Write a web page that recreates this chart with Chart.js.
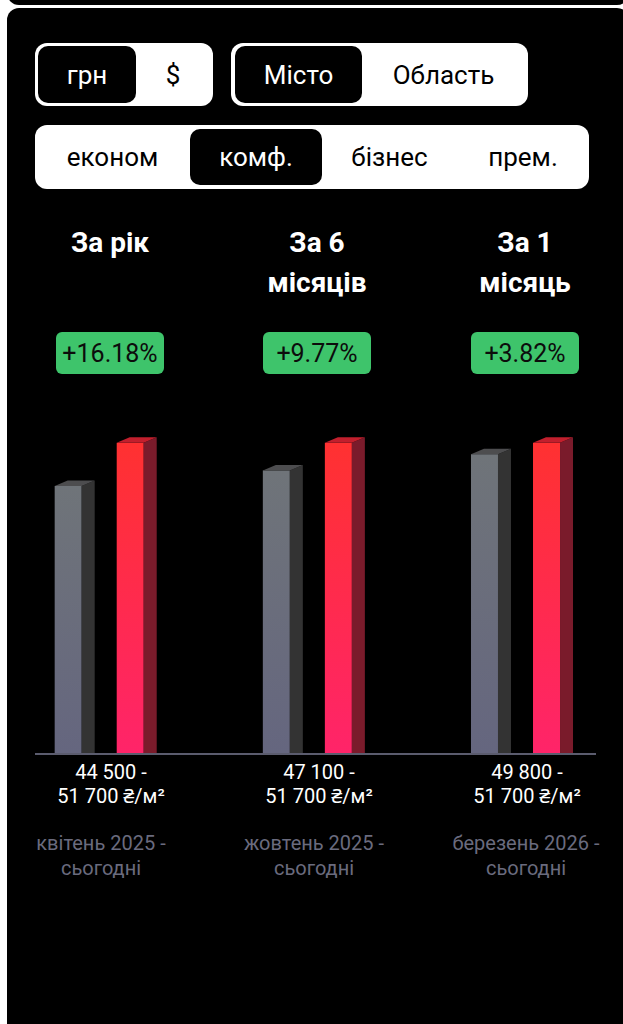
<!DOCTYPE html>
<html>
<head>
<meta charset="utf-8">
<script src="https://cdn.jsdelivr.net/npm/chart.js@4.4.1/dist/chart.umd.min.js"></script>
<style>
  html, body { margin: 0; padding: 0; }
  body { width: 623px; height: 1024px; background: #ffffff; position: relative; overflow: hidden; font-family: Roboto, "Noto Sans", sans-serif; }
  .topcard { position: absolute; left: 7px; right: -6px; top: -40px; height: 45px; background: #000; border-radius: 12px; }
  .card { position: absolute; left: 7px; right: -6px; top: 8px; height: 1100px; background: #000; border-radius: 12px; }
  .pill { position: absolute; background: #fff; border-radius: 12px; display: flex; align-items: center; }
  .opt { position: absolute; top: 3px; bottom: 3px; display: flex; align-items: center; justify-content: center; font-size: 26px; color: #000; }
  .opt.on { background: #000; color: #fff; border-radius: 10px; }
  .head { position: absolute; width: 200px; text-align: center; color: #fff; font-weight: bold; font-size: 28px; line-height: 40px; }
  .badge { position: absolute; width: 108px; height: 42px; background: #3ec46b; border-radius: 6px; display: flex; align-items: center; justify-content: center; font-size: 25px; color: #0c0c0c; }
  .val { position: absolute; width: 200px; text-align: center; color: #fff; font-size: 20px; line-height: 24px; }
  .per { position: absolute; width: 220px; text-align: center; color: #6a6b7e; font-size: 20px; line-height: 25px; }
  canvas#c { position: absolute; left: 0; top: 383px; }
</style>
</head>
<body>
<div class="topcard"></div>
<div class="card"></div>

<div class="pill" style="left:35px;top:43px;width:178px;height:63px;">
  <div class="opt on" style="left:3px;width:98px;">грн</div>
  <div class="opt" style="left:101px;width:74px;">$</div>
</div>
<div class="pill" style="left:231px;top:43px;width:297px;height:63px;">
  <div class="opt on" style="left:4px;width:127px;">Місто</div>
  <div class="opt" style="left:131px;width:163px;">Область</div>
</div>
<div class="pill" style="left:35px;top:125px;width:554px;height:64px;">
  <div class="opt" style="left:0px;width:155px;">економ</div>
  <div class="opt on" style="left:155px;width:132px;top:4px;bottom:4px;">комф.</div>
  <div class="opt" style="left:287px;width:135px;">бізнес</div>
  <div class="opt" style="left:422px;width:132px;">прем.</div>
</div>

<div id="texts"></div>
<canvas id="c" width="623" height="380"></canvas>

<script>
// ---- data ----
const periods = ["За рік", "За 6 місяців", "За 1 місяць"];
const headingLines = [["За рік"], ["За 6", "місяців"], ["За 1", "місяць"]];
const changes = ["+16.18%", "+9.77%", "+3.82%"];
const priceFrom = [44500, 47100, 49800];
const priceTo = [51700, 51700, 51700];
const fromLabels = ["44 500 -", "47 100 -", "49 800 -"];
const toLabels = ["51 700 ₴/м²", "51 700 ₴/м²", "51 700 ₴/м²"];
const periodLabels = [["квітень 2025 -", "сьогодні"], ["жовтень 2025 -", "сьогодні"], ["березень 2026 -", "сьогодні"]];

// ---- text blocks ----
const headX = [110, 317, 525];
const valX = [111, 319, 527];
const perX = [101, 314, 526];
const t = document.getElementById('texts');
let html = '';
for (let i = 0; i < 3; i++) {
  html += `<div class="head" style="left:${headX[i]-100}px;top:223px;">${headingLines[i].join('<br>')}</div>`;
  html += `<div class="badge" style="left:${headX[i]-54}px;top:332px;">${changes[i]}</div>`;
  html += `<div class="val" style="left:${valX[i]-100}px;top:760px;">${fromLabels[i]}<br>${toLabels[i]}</div>`;
  html += `<div class="per" style="left:${perX[i]-110}px;top:831px;">${periodLabels[i].join('<br>')}</div>`;
}
t.innerHTML = html;

// ---- 3D bar plugin ----
const bar3d = {
  id: 'bar3d',
  afterDatasetsDraw(chart) {
    const ctx = chart.ctx;
    const yScale = chart.scales.y;
    const base = yScale.getPixelForValue(0);
    // axis line
    ctx.save();
    ctx.fillStyle = '#5b5c6e';
    ctx.fillRect(35, base, 561, 2);
    const styles = [
      { top: '#6f7479', bottom: '#65667f', side: '#333333', cap: '#4d4d4f' },
      { top: '#ff3131', bottom: '#ff2469', side: '#7a1b2b', cap: '#c21f2d' }
    ];
    chart.data.datasets.forEach((ds, di) => {
      const meta = chart.getDatasetMeta(di);
      const st = styles[di];
      meta.data.forEach(el => {
        const { x, y, width } = el.getProps(['x', 'y', 'width'], true);
        const left = x - width / 2;
        const fw = width * 27 / 40;
        const dx = width - fw;
        const dy = 5.5;
        const right = left + fw;
        // front
        const g = ctx.createLinearGradient(0, y, 0, base);
        g.addColorStop(0, st.top);
        g.addColorStop(1, st.bottom);
        ctx.fillStyle = g;
        ctx.fillRect(left, y, fw, base - y);
        // side
        ctx.fillStyle = st.side;
        ctx.beginPath();
        ctx.moveTo(right, y);
        ctx.lineTo(right + dx, y - dy);
        ctx.lineTo(right + dx, base);
        ctx.lineTo(right, base);
        ctx.closePath();
        ctx.fill();
        // cap
        ctx.fillStyle = st.cap;
        ctx.beginPath();
        ctx.moveTo(left, y);
        ctx.lineTo(left + dx, y - dy);
        ctx.lineTo(right + dx, y - dy);
        ctx.lineTo(right, y);
        ctx.closePath();
        ctx.fill();
      });
    });
    ctx.restore();
  }
};

new Chart(document.getElementById('c'), {
  type: 'bar',
  data: {
    labels: periods,
    datasets: [
      { label: 'from', data: priceFrom, backgroundColor: 'rgba(0,0,0,0)', borderWidth: 0 },
      { label: 'to', data: priceTo, backgroundColor: 'rgba(0,0,0,0)', borderWidth: 0 }
    ]
  },
  options: {
    responsive: false,
    animation: false,
    events: [],
    layout: { padding: { left: 105.7, right: 101, top: 10, bottom: 10 } },
    categoryPercentage: 0.596,
    barPercentage: 0.645,
    scales: {
      x: { display: false, offset: false },
      y: { display: false, min: 0, max: 60000 }
    },
    plugins: { legend: { display: false }, tooltip: { enabled: false } }
  },
  plugins: [bar3d]
});
</script>
</body>
</html>
